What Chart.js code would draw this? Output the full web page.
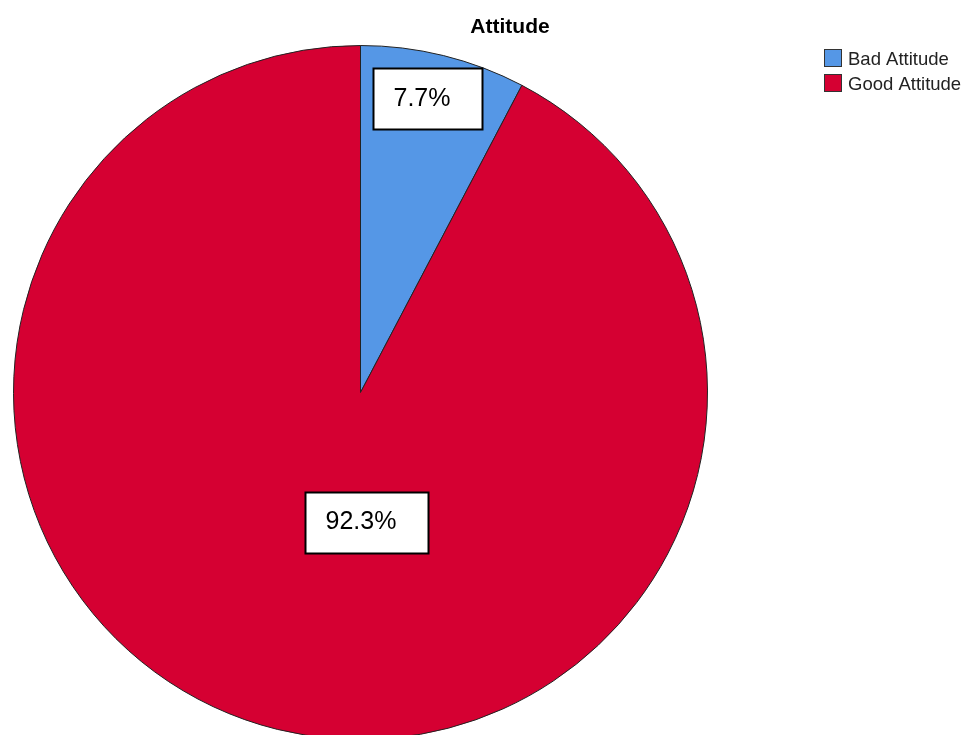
<!DOCTYPE html>
<html>
<head>
<meta charset="utf-8">
<script src="https://cdn.jsdelivr.net/npm/chart.js@4/dist/chart.umd.min.js"></script>
<style>
  html, body { margin: 0; padding: 0; background: #ffffff; overflow: hidden; }
  #wrap { position: relative; width: 964px; height: 760px; }
</style>
</head>
<body>
<div id="wrap"><canvas id="c"></canvas></div>
<script>
const chartTitle = "Attitude";
const categories = ["Bad Attitude", "Good Attitude"];
const percents = [7.7, 92.3];
const colors = ["#5597E6", "#D50032"];

// label anchors relative to pie centre, as fraction of radius (box centre)
const labelAnchors = [[0.193, -0.846], [0.016, 0.374]];

const overlay = {
  id: "overlay",
  afterDatasetsDraw(chart) {
    const ctx = chart.ctx;
    const meta = chart.getDatasetMeta(0);
    ctx.save();
    // slice labels
    ctx.font = "25px 'Liberation Sans', Arial, sans-serif";
    ctx.textBaseline = "middle";
    meta.data.forEach((arc, i) => {
      const txt = percents[i].toFixed(1) + "%";
      const tw = ctx.measureText(txt).width;
      const bw = Math.round(tw + 52), bh = 61;
      const cx = arc.x + labelAnchors[i][0] * arc.outerRadius;
      const cy = arc.y + labelAnchors[i][1] * arc.outerRadius;
      const bx = Math.round(cx - bw / 2) + 0.5, by = Math.round(cy - bh / 2) + 0.5;
      ctx.fillStyle = "#ffffff";
      ctx.fillRect(bx, by, bw, bh);
      ctx.strokeStyle = "#000000";
      ctx.lineWidth = 2;
      ctx.strokeRect(bx, by, bw, bh);
      ctx.fillStyle = "#000000";
      ctx.textAlign = "left";
      ctx.fillText(txt, bx + 20, cy);
    });
    // title
    ctx.font = "bold 21px 'Liberation Sans', Arial, sans-serif";
    ctx.textAlign = "center";
    ctx.textBaseline = "alphabetic";
    ctx.fillStyle = "#000000";
    ctx.fillText(chartTitle, 510, 33);
    // legend
    ctx.font = "18.5px 'Liberation Sans', Arial, sans-serif";
    ctx.textAlign = "left";
    ctx.textBaseline = "middle";
    categories.forEach((lab, i) => {
      const y = 49 + i * 25;
      ctx.fillStyle = colors[i];
      ctx.fillRect(824, y, 17, 17);
      ctx.strokeStyle = "#333333";
      ctx.lineWidth = 1;
      ctx.strokeRect(824.5, y + 0.5, 17, 17);
      ctx.fillStyle = "#222222";
      ctx.fillText(lab, 848, y + 10.5);
    });
    ctx.restore();
  }
};

new Chart(document.getElementById("c"), {
  type: "pie",
  data: {
    labels: categories,
    datasets: [{
      data: percents,
      backgroundColor: colors,
      borderColor: "#222222",
      borderWidth: 1,
      hoverOffset: 0,
      offset: 0
    }]
  },
  options: {
    responsive: true,
    maintainAspectRatio: false,
    animation: false,
    events: [],
    layout: { padding: { left: 13, right: 256, top: 45, bottom: 20 } },
    plugins: {
      legend: { display: false },
      title: { display: false },
      tooltip: { enabled: false }
    }
  },
  plugins: [overlay]
});
</script>
</body>
</html>
